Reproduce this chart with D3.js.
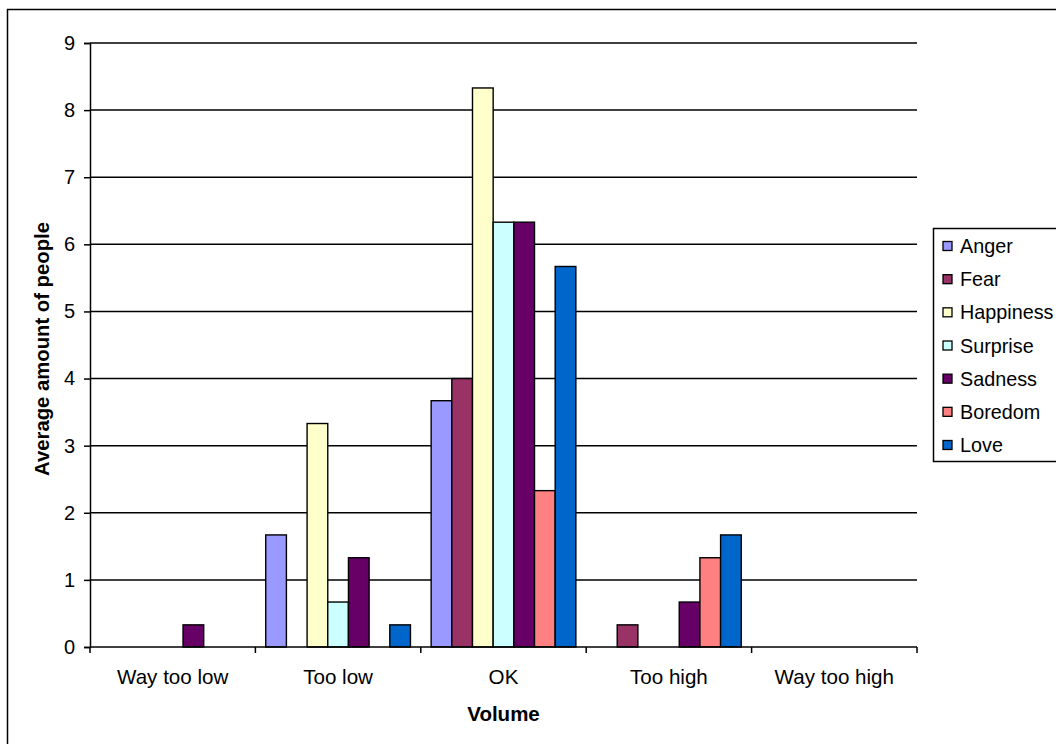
<!DOCTYPE html>
<html>
<head>
<meta charset="utf-8">
<script src="https://cdn.jsdelivr.net/npm/d3@7"></script>
<style>
  html, body { margin: 0; padding: 0; background: #fff; }
  svg { display: block; }
  text { font-family: Arial, "Liberation Sans", sans-serif; fill: #000; }
</style>
</head>
<body>
<svg id="chart" width="1056" height="744"></svg>
<script>
// Volume ratings per emotion
const categories = ["Way too low", "Too low", "OK", "Too high", "Way too high"];
const seriesNames = ["Anger", "Fear", "Happiness", "Surprise", "Sadness", "Boredom", "Love"];
const seriesColors = ["#9999FF", "#993366", "#FFFFCC", "#CCFFFF", "#660066", "#FF8080", "#0066CC"];
const anger     = [0,    1.67, 3.67, 0,    0];
const fear      = [0,    0,    4.00, 0.33, 0];
const happiness = [0,    3.33, 8.33, 0,    0];
const surprise  = [0,    0.67, 6.33, 0,    0];
const sadness   = [0.33, 1.33, 6.33, 0.67, 0];
const boredom   = [0,    0,    2.33, 1.33, 0];
const love      = [0,    0.33, 5.67, 1.67, 0];
const yTicks = [0, 1, 2, 3, 4, 5, 6, 7, 8, 9];

const seriesValues = [anger, fear, happiness, surprise, sadness, boredom, love];

const svg = d3.select("#chart");

// outer chart frame (continues past the right and bottom edges)
svg.append("rect")
  .attr("x", 7.5).attr("y", 9.5)
  .attr("width", 1100).attr("height", 800)
  .attr("fill", "#fff").attr("stroke", "#000").attr("stroke-width", 1.5);

const plot = { left: 90, right: 917, top: 43, bottom: 647 };

const x = d3.scaleBand().domain(categories).range([plot.left, plot.right]).paddingInner(0).paddingOuter(0);
const xs = d3.scaleBand().domain(seriesNames).range([0, x.bandwidth()]).paddingInner(0).paddingOuter(0.5);
const y = d3.scaleLinear().domain([0, 9]).range([plot.bottom, plot.top]);

// horizontal gridlines
svg.append("g")
  .selectAll("line")
  .data(yTicks.filter(d => d > 0))
  .join("line")
  .attr("x1", plot.left).attr("x2", plot.right)
  .attr("y1", d => y(d)).attr("y2", d => y(d))
  .attr("stroke", "#000").attr("stroke-width", 1.5);

// bars
const rows = [];
seriesNames.forEach((s, i) => {
  categories.forEach((c, j) => {
    rows.push({ series: s, cat: c, value: seriesValues[i][j], color: seriesColors[i] });
  });
});
svg.append("g")
  .selectAll("rect")
  .data(rows.filter(d => d.value > 0))
  .join("rect")
  .attr("x", d => x(d.cat) + xs(d.series))
  .attr("y", d => y(d.value))
  .attr("width", xs.bandwidth())
  .attr("height", d => y(0) - y(d.value))
  .attr("fill", d => d.color)
  .attr("stroke", "#000").attr("stroke-width", 1.4);

// y axis
const yAxis = svg.append("g")
  .attr("transform", `translate(${plot.left},0)`)
  .call(d3.axisLeft(y).tickValues(yTicks).tickSize(6).tickPadding(9).tickFormat(d3.format("d")));
yAxis.select(".domain").attr("stroke", "#000").attr("stroke-width", 1.5);
yAxis.selectAll(".tick line").attr("stroke", "#000").attr("stroke-width", 1.5);
yAxis.selectAll(".tick text")
  .attr("font-size", 20).attr("fill", "#000")
  .style("font-family", "Arial, 'Liberation Sans', sans-serif");

// x axis: ticks at category boundaries
const xAxisG = svg.append("g");
xAxisG.append("line")
  .attr("x1", plot.left).attr("x2", plot.right)
  .attr("y1", plot.bottom).attr("y2", plot.bottom)
  .attr("stroke", "#000").attr("stroke-width", 1.5);
const boundaries = categories.map(c => x(c)).concat([x(categories[categories.length - 1]) + x.bandwidth()]);
xAxisG.selectAll("line.tick")
  .data(boundaries)
  .join("line")
  .attr("class", "tick")
  .attr("x1", d => d).attr("x2", d => d)
  .attr("y1", plot.bottom).attr("y2", plot.bottom + 6)
  .attr("stroke", "#000").attr("stroke-width", 1.5);
xAxisG.selectAll("text")
  .data(categories)
  .join("text")
  .attr("x", d => x(d) + x.bandwidth() / 2)
  .attr("y", 684)
  .attr("text-anchor", "middle")
  .attr("font-size", 20.6)
  .text(d => d);

// axis titles
svg.append("text")
  .attr("x", (plot.left + plot.right) / 2)
  .attr("y", 721)
  .attr("text-anchor", "middle")
  .attr("font-size", 20.5).attr("font-weight", "bold")
  .text("Volume");

svg.append("text")
  .attr("transform", `translate(49, ${(plot.top + plot.bottom) / 2 + 4}) rotate(-90)`)
  .attr("text-anchor", "middle")
  .attr("font-size", 20.3).attr("font-weight", "bold")
  .text("Average amount of people");

// legend
const legend = svg.append("g");
legend.append("rect")
  .attr("x", 933.5).attr("y", 228.5)
  .attr("width", 140).attr("height", 233)
  .attr("fill", "#fff").attr("stroke", "#000").attr("stroke-width", 1.5);
const ly = d3.scalePoint().domain(seriesNames).range([246, 445]);
const items = legend.selectAll("g.item")
  .data(seriesNames)
  .join("g")
  .attr("class", "item")
  .attr("transform", d => `translate(0, ${ly(d)})`);
items.append("rect")
  .attr("x", 943).attr("y", -4.5)
  .attr("width", 9).attr("height", 9)
  .attr("fill", (d, i) => seriesColors[i])
  .attr("stroke", "#000").attr("stroke-width", 1.3);
items.append("text")
  .attr("x", 960).attr("y", 7)
  .attr("font-size", 19.8)
  .text(d => d);
</script>
</body>
</html>
